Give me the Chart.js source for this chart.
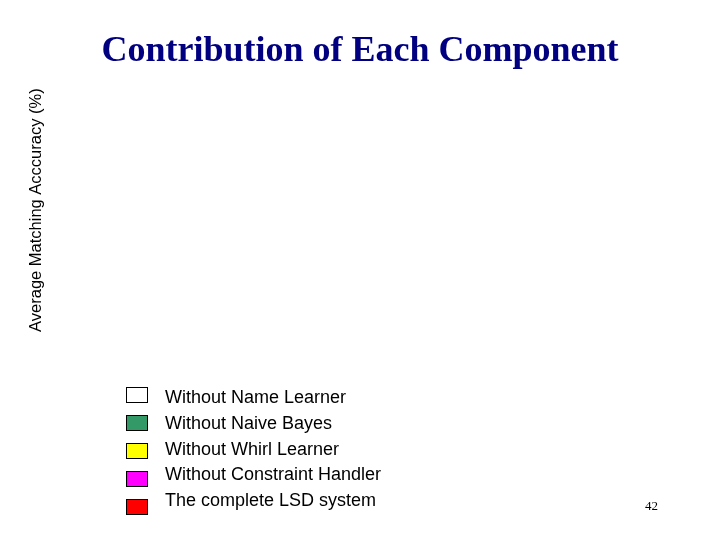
<!DOCTYPE html>
<html>
<head>
<meta charset="utf-8">
<title>Contribution of Each Component</title>
<script src="https://cdn.jsdelivr.net/npm/chart.js@4.4.1/dist/chart.umd.min.js"></script>
<style>
  html, body { margin: 0; padding: 0; background: #fff; }
  #wrap { width: 720px; height: 540px; position: relative; }
</style>
</head>
<body>
<div id="wrap"><canvas id="chart" width="720" height="540"></canvas></div>
<script>
// No bars are visible in the slide, so the categories and values are empty
const categories = [];
const seriesNames = [
  'Without Name Learner',
  'Without Naive Bayes',
  'Without Whirl Learner',
  'Without Constraint Handler',
  'The complete LSD system'
];
const seriesColors = ['#FFFFFF', '#339966', '#FFFF00', '#FF00FF', '#FF0000'];
const nameLearnerValues = [];
const naiveBayesValues = [];
const whirlLearnerValues = [];
const constraintHandlerValues = [];
const completeSystemValues = [];
const pageNumber = '42';

const seriesValues = [
  nameLearnerValues,
  naiveBayesValues,
  whirlLearnerValues,
  constraintHandlerValues,
  completeSystemValues
];

// Vertical legend list drawn under the plot, plus the slide number
const slideLegend = {
  id: 'slideLegend',
  afterDraw(chart) {
    const ctx = chart.ctx;
    ctx.save();
    chart.data.datasets.forEach((ds, i) => {
      const y = 387 + i * 28;
      ctx.fillStyle = ds.backgroundColor;
      ctx.fillRect(126, y, 22, 16);
      ctx.strokeStyle = '#000';
      ctx.lineWidth = 1;
      ctx.strokeRect(126.5, y + 0.5, 21, 15);
      ctx.fillStyle = '#000';
      ctx.font = '18px "Liberation Sans", Arial, sans-serif';
      ctx.textBaseline = 'middle';
      ctx.textAlign = 'left';
      ctx.fillText(ds.label, 165, 398 + i * 25.8);
    });
    ctx.font = '13px "Liberation Serif", "Times New Roman", serif';
    ctx.textAlign = 'left';
    ctx.textBaseline = 'middle';
    ctx.fillText(pageNumber, 645, 507);
    ctx.restore();
  }
};

new Chart(document.getElementById('chart'), {
  type: 'bar',
  data: {
    labels: categories,
    datasets: seriesNames.map((name, i) => ({
      label: name,
      data: seriesValues[i],
      backgroundColor: seriesColors[i],
      borderColor: '#000',
      borderWidth: 1
    }))
  },
  options: {
    responsive: false,
    animation: false,
    layout: { padding: { left: 23, right: 23, top: 0, bottom: 205 } },
    plugins: {
      legend: { display: false },
      tooltip: { enabled: false },
      title: {
        display: true,
        text: 'Contribution of Each Component',
        color: '#000080',
        font: { family: '"Liberation Serif", "Times New Roman", serif', size: 36, weight: 'bold' },
        padding: { top: 30, bottom: 20 }
      }
    },
    scales: {
      x: {
        display: true,
        grid: { display: false },
        border: { display: false },
        ticks: { display: false }
      },
      y: {
        display: true,
        grid: { display: false },
        border: { display: false },
        ticks: { display: false },
        title: {
          display: true,
          text: 'Average Matching Acccuracy (%)',
          color: '#000',
          font: { family: '"Liberation Sans", Arial, sans-serif', size: 16.5 }
        }
      }
    }
  },
  plugins: [slideLegend]
});
</script>
</body>
</html>
